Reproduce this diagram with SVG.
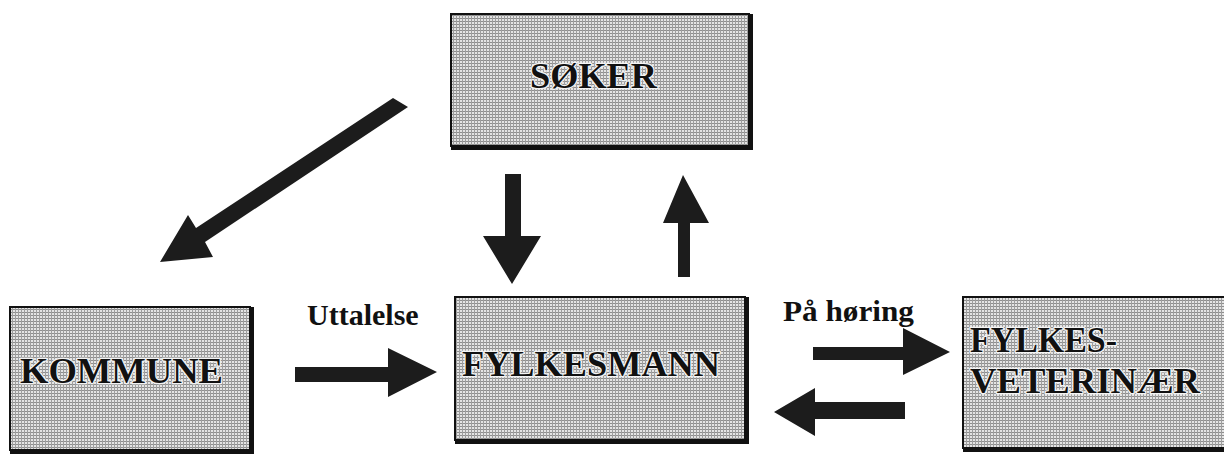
<svg xmlns="http://www.w3.org/2000/svg" width="1224" height="454" viewBox="0 0 1224 454">
  <defs>
    <!-- halftone screen used as box fill -->
    <pattern id="screen" width="3" height="3" patternUnits="userSpaceOnUse">
      <rect width="3" height="3" fill="#e4e4e4"/>
      <rect width="3" height="1" fill="#8e8e8e"/>
      <rect width="1" height="3" fill="#9e9e9e"/>
    </pattern>
  </defs>
  <style>
    .box { fill: url(#screen); stroke: #111; stroke-width: 2; }
    .shadow { fill: none; stroke: #111; stroke-width: 4; }
    .label { font-family: 'Liberation Serif', 'Times New Roman', serif; font-weight: 700; font-size: 36px; fill: #111;
             stroke: #f4f4f4; stroke-width: 2.5; stroke-linejoin: round; paint-order: stroke; }
    .note { font-family: 'Liberation Serif', 'Times New Roman', serif; font-weight: 700; font-size: 30px; fill: #111; }
    .arrow { fill: #1c1c1c; }
  </style>
  <rect width="1224" height="454" fill="#ffffff"/>

  <g id="soker">
    <rect class="box" x="451" y="14" width="298" height="132"/>
    <polyline class="shadow" points="751,14 751,148 451,148"/>
    <text class="label" x="530" y="88" textLength="127" lengthAdjust="spacingAndGlyphs">SØKER</text>
  </g>

  <g id="kommune">
    <rect class="box" x="10" y="307" width="240" height="143"/>
    <polyline class="shadow" points="252,307 252,452 10,452"/>
    <text class="label" x="20" y="383" textLength="203" lengthAdjust="spacingAndGlyphs">KOMMUNE</text>
  </g>

  <g id="fylkesmann">
    <rect class="box" x="455" y="297" width="290" height="143"/>
    <polyline class="shadow" points="747,297 747,442 455,442"/>
    <text class="label" x="462" y="376" textLength="258" lengthAdjust="spacingAndGlyphs">FYLKESMANN</text>
  </g>

  <g id="fylkesveterinaer">
    <rect class="box" x="963" y="297" width="270" height="151"/>
    <line class="shadow" x1="963" y1="450" x2="1224" y2="450"/>
    <text class="label" x="970" y="352" textLength="147" lengthAdjust="spacingAndGlyphs">FYLKES-</text>
    <text class="label" x="970" y="393" textLength="230" lengthAdjust="spacingAndGlyphs">VETERINÆR</text>
  </g>

  <g id="connectors">
    <!-- SØKER to KOMMUNE (diagonal) -->
    <polygon class="arrow" points="393,98 408,107 205,242 213,257 160,262 188,215 196,228"/>
    <!-- SØKER to FYLKESMANN -->
    <polygon class="arrow" points="505,174 521,174 521,236 541,236 512,284 483,236 505,236"/>
    <!-- FYLKESMANN to SØKER -->
    <polygon class="arrow" points="678,277 690,277 690,223 709,223 683,175 663,223 678,223"/>
    <!-- KOMMUNE to FYLKESMANN -->
    <polygon class="arrow" points="295,367 388,367 388,348 437,372 388,397 388,382 295,382"/>
    <!-- FYLKESMANN to FYLKESVETERINÆR -->
    <polygon class="arrow" points="813,347 903,347 903,328 950,352 903,375 903,360 813,360"/>
    <!-- FYLKESVETERINÆR to FYLKESMANN -->
    <polygon class="arrow" points="905,402 905,419 815,419 815,436 774,412 815,388 815,402"/>
    <text class="note" x="307" y="325">Uttalelse</text>
    <text class="note" x="783" y="321" textLength="131" lengthAdjust="spacingAndGlyphs">På høring</text>
  </g>
</svg>
